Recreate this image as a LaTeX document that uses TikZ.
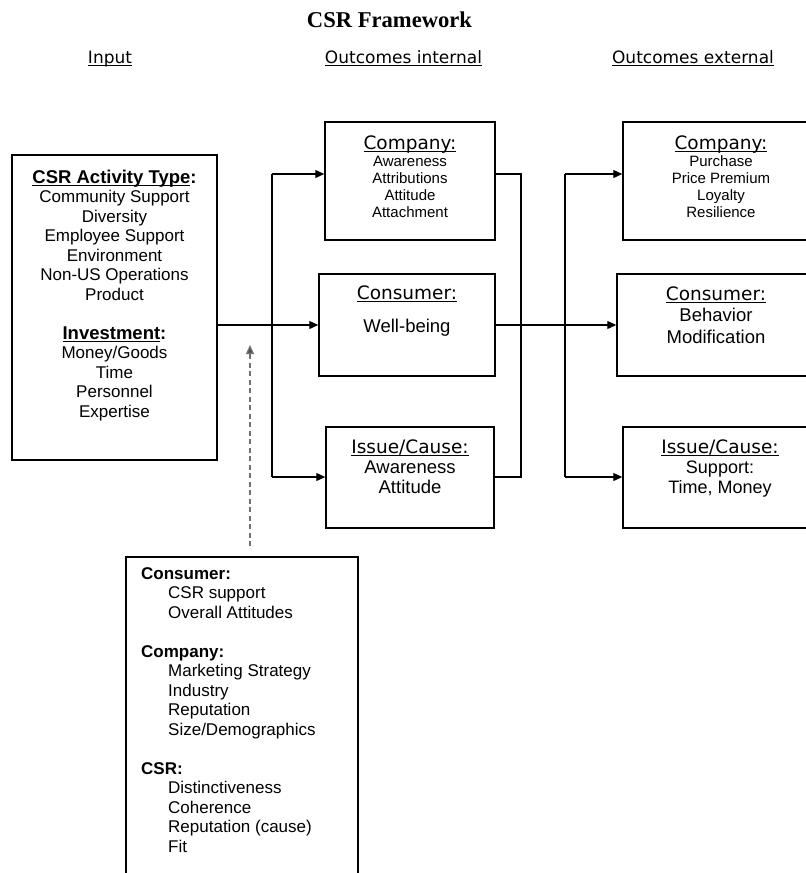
\documentclass[tikz,border=0pt]{standalone}
\usepackage{fontspec}
\setmainfont{Liberation Sans}
\newfontfamily\dvs{DejaVu Sans}
\newfontfamily\tms{Liberation Serif}
\usetikzlibrary{arrows.meta}
\newcommand\ulin[1]{\setbox0\hbox{#1}\rlap{\rule[-2.8pt]{\wd0}{1.1pt}}\box0}
\newcommand\lbh[1]{{\fontsize{18.5}{19.5}\selectfont\bfseries #1}}
\newcommand\bxh[1]{{\dvs\fontsize{18.5}{19.5}\selectfont\ulin{#1}}}
\begin{document}
\begin{tikzpicture}[x=1pt,y=-1pt,
  box/.style={draw=black, line width=1.5pt, inner sep=0pt},
  txt/.style={anchor=base, inner sep=0pt},
  hdr/.style={anchor=base, inner sep=0pt, font=\dvs\fontsize{17}{20}\selectfont},
  conn/.style={line width=1.3pt, draw=black},
  arr/.style={conn, -{Triangle[length=9pt,width=8pt]}},
  dasharr/.style={line width=1.3pt, draw=black!55, dash pattern=on 5pt off 3.5pt,
     -{Triangle[length=9pt,width=8pt,fill=black!70]}}
]
\useasboundingbox (0,0) rectangle (806,873);
\fill[white] (0,0) rectangle (806,873);

% title and headers
\node[txt, font=\tms\bfseries\fontsize{22.6}{26}\selectfont] (title) at (389.5,27) {CSR Framework};
\node[hdr] (hin) at (110,63) {\ulin{Input}};
\node[hdr] (hint) at (403.5,63) {\ulin{Outcomes internal}};
\node[hdr] (hext) at (693,63) {\ulin{Outcomes external}};

% input box
\node[box, minimum width=205pt, minimum height=305pt] (lb) at (114.5,307.5) {};
\node[txt, font=\fontsize{17}{19.5}\selectfont] (lbt) at (114.5,183) {%
\begin{tabular}[t]{@{}c@{}}
\lbh{\ulin{CSR Activity Type}:}\\
Community Support\\
Diversity\\
Employee Support\\
Environment\\
Non-US Operations\\
Product\\
\\
\lbh{\ulin{Investment}:}\\
Money/Goods\\
Time\\
Personnel\\
Expertise
\end{tabular}};

% internal outcome boxes
\node[box, minimum width=170pt, minimum height=118pt] (cpi) at (410,181) {};
\node[txt, font=\fontsize{15}{17}\selectfont] (cpit) at (410,149) {%
\begin{tabular}[t]{@{}c@{}}
\bxh{Company:}\\
Awareness\\
Attributions\\
Attitude\\
Attachment
\end{tabular}};

\node[box, minimum width=176pt, minimum height=102pt] (ci) at (407,325) {};
\node[txt, font=\fontsize{18.5}{20.5}\selectfont] (cit) at (407,299.5) {%
\begin{tabular}[t]{@{}c@{}}
\bxh{Consumer:}\\[12pt]
Well-being
\end{tabular}};

\node[box, minimum width=168pt, minimum height=101pt] (isi) at (410,477.5) {};
\node[txt, font=\fontsize{18.5}{20}\selectfont] (isit) at (410,453.5) {%
\begin{tabular}[t]{@{}c@{}}
\bxh{Issue/Cause:}\\
Awareness\\
Attitude
\end{tabular}};

% external outcome boxes and moderator box (cut by the page edge)
\begin{scope}
\clip (0,0) rectangle (806,873);
\node[box, minimum width=196pt, minimum height=118pt] (cpe) at (721,181) {};
\node[box, minimum width=198pt, minimum height=102pt] (ce) at (716,325) {};
\node[box, minimum width=196pt, minimum height=101pt] (ise) at (721,477.5) {};
\node[box, minimum width=232pt, minimum height=343pt] (bb) at (242,728.5) {};
\end{scope}

\node[txt, font=\fontsize{15}{17}\selectfont] (cpet) at (721,149) {%
\begin{tabular}[t]{@{}c@{}}
\bxh{Company:}\\
Purchase\\
Price Premium\\
Loyalty\\
Resilience
\end{tabular}};

\node[txt, font=\fontsize{18.5}{21.5}\selectfont] (cet) at (716,300) {%
\begin{tabular}[t]{@{}c@{}}
\bxh{Consumer:}\\
Behavior\\
Modification
\end{tabular}};

\node[txt, font=\fontsize{18}{20}\selectfont] (iset) at (720,453.5) {%
\begin{tabular}[t]{@{}c@{}}
\bxh{Issue/Cause:}\\
Support:\\
Time, Money
\end{tabular}};

\node[anchor=base west, inner sep=0pt, font=\fontsize{17}{19.5}\selectfont] (bbt) at (141,579) {%
\begin{tabular}[t]{@{}l@{}}
\textbf{Consumer:}\\
\hspace*{27pt}CSR support\\
\hspace*{27pt}Overall Attitudes\\
\\
\textbf{Company:}\\
\hspace*{27pt}Marketing Strategy\\
\hspace*{27pt}Industry\\
\hspace*{27pt}Reputation\\
\hspace*{27pt}Size/Demographics\\
\\
\textbf{CSR:}\\
\hspace*{27pt}Distinctiveness\\
\hspace*{27pt}Coherence\\
\hspace*{27pt}Reputation (cause)\\
\hspace*{27pt}Fit
\end{tabular}};

% connectors
\coordinate (b1) at (272,174);
\coordinate (b2) at (272,477);
\coordinate (r1) at (521,174);
\coordinate (r2) at (521,477);
\coordinate (e1) at (565,174);
\coordinate (e2) at (565,477);
\coordinate (dstart) at (250,546);
\coordinate (dtip) at (250,345);

\draw[arr] (lb.east |- ci.west) -- (ci.west);
\draw[conn] (b1) -- (b2);
\draw[arr] (b1) -- (b1 -| cpi.west);
\draw[arr] (b2) -- (b2 -| isi.west);
\draw[conn] (r1 -| cpi.east) -- (r1) -- (r2) -- (r2 -| isi.east);
\draw[arr] (ci.east) -- (ce.west);
\draw[conn] (e1) -- (e2);
\draw[arr] (e1) -- (e1 -| cpe.west);
\draw[arr] (e2) -- (e2 -| ise.west);
\draw[dasharr] (dstart) -- (dtip);
\end{tikzpicture}
\end{document}
